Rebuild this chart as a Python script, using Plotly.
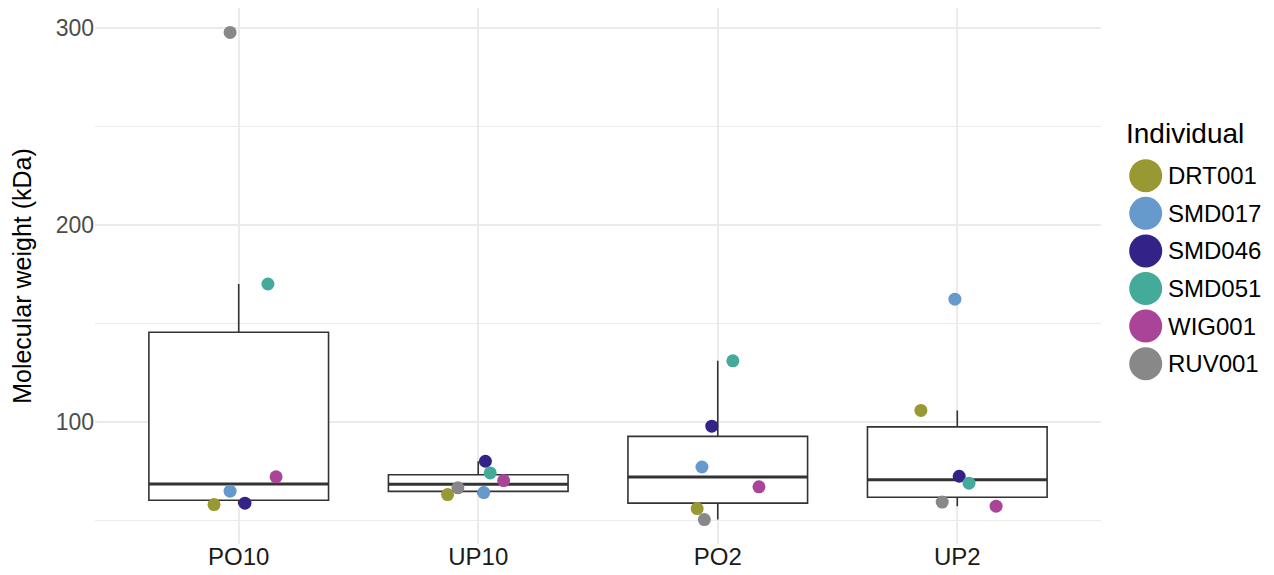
import numpy as np
import plotly.graph_objects as go

# ---------------- data ----------------
categories = ["PO10", "UP10", "PO2", "UP2"]
individuals = ["DRT001", "SMD017", "SMD046", "SMD051", "WIG001", "RUV001"]

DRT001 = [58.0, 63.1, 56.0, 105.8]
SMD017 = [64.8, 64.1, 77.1, 162.3]
SMD046 = [58.7, 80.0, 97.8, 72.4]
SMD051 = [170.0, 74.1, 131.0, 68.9]
WIG001 = [72.1, 70.2, 67.0, 57.2]
RUV001 = [297.7, 66.5, 50.4, 59.3]

values = [DRT001, SMD017, SMD046, SMD051, WIG001, RUV001]

# jitter offsets (category units), as drawn in the reference
jitter_DRT001 = [-0.103, -0.128, -0.086, -0.152]
jitter_SMD017 = [-0.036, 0.023, -0.066, -0.010]
jitter_SMD046 = [0.026, 0.030, -0.025, 0.008]
jitter_SMD051 = [0.122, 0.050, 0.063, 0.049]
jitter_WIG001 = [0.156, 0.106, 0.172, 0.162]
jitter_RUV001 = [-0.036, -0.085, -0.056, -0.063]
jitters = [jitter_DRT001, jitter_SMD017, jitter_SMD046, jitter_SMD051,
           jitter_WIG001, jitter_RUV001]

colors = ["#999933", "#6699CC", "#332288", "#44AA99", "#AA4499", "#888888"]

FONT = "Liberation Sans, Arial, Helvetica, sans-serif"

# ---------------- box statistics (ggplot style, type-7 quantiles) ----------------
data = np.array(values)  # individuals x categories
pos = np.arange(len(categories))
q1s, meds, q3s, lows, highs = [], [], [], [], []
for j in range(len(categories)):
    col = data[:, j]
    q1, med, q3 = np.percentile(col, [25, 50, 75])
    iqr = q3 - q1
    hi = col[col <= q3 + 1.5 * iqr].max()
    lo = col[col >= q1 - 1.5 * iqr].min()
    q1s.append(q1); meds.append(med); q3s.append(q3); lows.append(lo); highs.append(hi)

BOXW = 0.75
fig = go.Figure()
fig.add_trace(go.Box(
    x=pos, q1=q1s, median=meds, q3=q3s, lowerfence=lows, upperfence=highs,
    width=BOXW, whiskerwidth=0, fillcolor="white",
    line=dict(color="#333333", width=1.6),
    boxpoints=False, hoverinfo="skip", showlegend=False,
))

# thicker median bars (ggplot fatten=2), drawn above the box but below points
mx, my = [], []
for p, m in zip(pos, meds):
    mx += [p - BOXW / 2, p + BOXW / 2, None]
    my += [m, m, None]
fig.add_trace(go.Scatter(x=mx, y=my, mode="lines", line=dict(color="#333333", width=3),
                         hoverinfo="skip", showlegend=False))

for name, vals, jit, col in zip(individuals, values, jitters, colors):
    fig.add_trace(go.Scatter(
        x=[p + d for p, d in zip(pos, jit)], y=vals, mode="markers", name=name,
        marker=dict(color=col, size=13, line=dict(width=0)),
        showlegend=False,
    ))

# ---------------- manual legend (large keys like ggplot) ----------------
PL, PR, PT, PB = 95.0, 1101.0, 8.0, 544.0
def pxx(xp):
    return (xp - PL) / (PR - PL)
def pyy(yp):
    return (PB - yp) / (PB - PT)

shapes = []
annotations = [dict(text="Individual", x=pxx(1124), y=pyy(134), xref="paper", yref="paper",
                    xanchor="left", yanchor="middle", showarrow=False,
                    font=dict(family=FONT, size=28, color="#000000"))]
for i, (name, col) in enumerate(zip(individuals, colors)):
    yc = 175.7 + 37.6 * i
    shapes.append(dict(type="circle", xref="paper", yref="paper",
                       xsizemode="pixel", ysizemode="pixel",
                       xanchor=pxx(1145.7), yanchor=pyy(yc),
                       x0=-16.5, x1=16.5, y0=-16.5, y1=16.5,
                       fillcolor=col, line=dict(width=0), layer="above"))
    annotations.append(dict(text=name, x=pxx(1166), y=pyy(yc), xref="paper", yref="paper",
                            xanchor="left", yanchor="middle", showarrow=False,
                            font=dict(family=FONT, size=24, color="#000000")))

fig.update_layout(
    width=1274, height=575,
    margin=dict(l=95, r=173, t=8, b=31, pad=0, autoexpand=False),
    paper_bgcolor="white", plot_bgcolor="white",
    font=dict(family=FONT),
    shapes=shapes, annotations=annotations,
    showlegend=False,
    xaxis=dict(range=[-0.6, 3.6], tickvals=list(pos), ticktext=categories,
               showgrid=True, gridcolor="#ebebeb", gridwidth=1.6, automargin=False,
               zeroline=False, showline=False, ticks="", ticklabelstandoff=-4,
               tickfont=dict(family=FONT, size=24, color="#1a1a1a")),
    yaxis=dict(range=[38.0, 310.1], tickvals=[100, 200, 300], automargin=False,
               showgrid=True, gridcolor="#ebebeb", gridwidth=1.6,
               minor=dict(tickvals=[50, 150, 250], showgrid=True, gridcolor="#ebebeb", gridwidth=1.2),
               zeroline=False, showline=False, ticks="",
               tickfont=dict(family=FONT, size=23, color="#4d4d4d"),
               title=dict(text="Molecular weight (kDa)", standoff=16,
                          font=dict(family=FONT, size=25, color="#000000"))),
)

fig.write_html("out.html")
